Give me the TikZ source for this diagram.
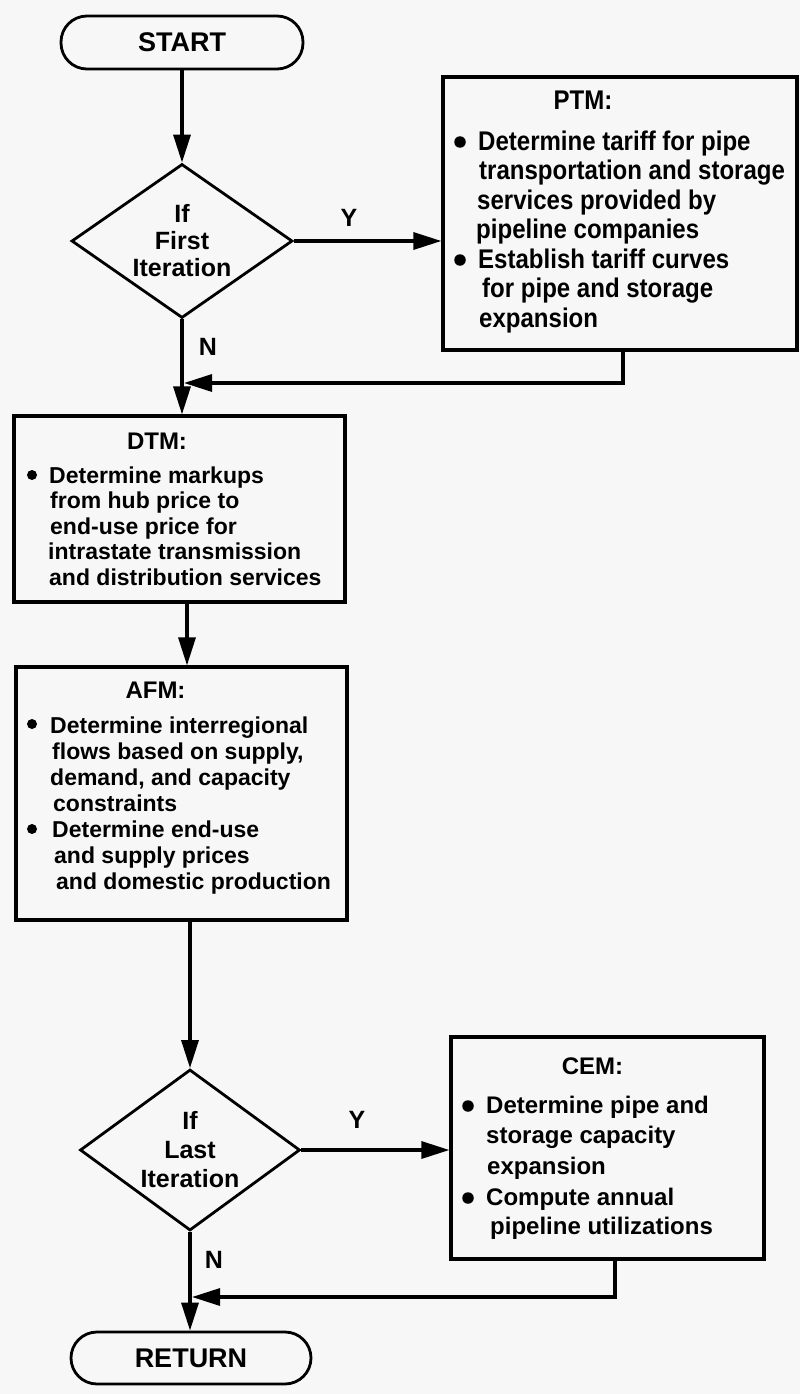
\documentclass[tikz,border=0pt]{standalone}
\usepackage{fontspec}
\setmainfont{Liberation Sans}
\newfontfamily\narrowfont[FakeStretch=0.89]{Liberation Sans}
\usetikzlibrary{shapes.geometric,arrows.meta,calc}
\begin{document}
\begin{tikzpicture}[x=1pt,y=-1pt,
  box/.style={draw, line width=3.2pt, rectangle, inner sep=0pt},
  term/.style={draw, line width=2.8pt, rounded corners=26pt, inner sep=0pt, font=\bfseries\fontsize{27}{30}\selectfont},
  dia/.style={draw, diamond, line width=2.8pt, inner sep=0pt, align=center},
  arr/.style={line width=3.2pt, -{Triangle[length=28pt,width=17pt]}},
  tdtm/.style={anchor=base west, inner sep=0pt, font=\bfseries\fontsize{23}{26}\selectfont},
  tptm/.style={anchor=base west, inner sep=0pt, font=\narrowfont\bfseries\fontsize{27}{29}\selectfont},
  tcem/.style={anchor=base west, inner sep=0pt, font=\bfseries\fontsize{24}{30}\selectfont},
  lab/.style={anchor=base, inner sep=0pt, font=\bfseries\fontsize{25}{27}\selectfont},
  bul/.style={circle, fill, inner sep=0pt, minimum size=11.5pt}]
\path[use as bounding box, fill=black!3] (0,0) rectangle (800,1394);

% main shapes
\node[term, minimum width=242pt, minimum height=53pt] (start) at (182,42.5) {START};
\node[dia, minimum width=221pt, minimum height=154pt, aspect=1.435,
      font=\bfseries\fontsize{25}{27}\selectfont] (d1) at (182,241) {If\\First\\Iteration};
\node[box, minimum width=354pt, minimum height=273pt] (ptm) at (620,213.5) {};
\node[box, minimum width=331pt, minimum height=186pt] (dtm) at (179.5,509) {};
\node[box, minimum width=331pt, minimum height=253pt] (afm) at (181.5,793.5) {};
\node[dia, minimum width=220pt, minimum height=161pt, aspect=1.37,
      font=\bfseries\fontsize{25}{29}\selectfont] (d2) at (190,1150) {If\\Last\\Iteration};
\node[box, minimum width=313pt, minimum height=222pt] (cem) at (607.5,1148) {};
\node[term, minimum width=240pt, minimum height=52pt] (ret) at (191,1358) {RETURN};

% connectors
\coordinate (j1) at (184,383);
\coordinate (t2) at (187,0);
\coordinate (j2) at (192,1297);
\draw[arr] (start) -- (d1);
\draw[arr] (d1.south) -- (d1.south |- dtm.north);
\draw[arr] (d1.east) -- (d1.east -| ptm.west);
\draw[arr] ([xshift=3pt]ptm.south) |- (j1);
\draw[arr] (t2 |- dtm.south) -- (t2 |- afm.north);
\draw[arr] (afm.south -| d2.north) -- (d2.north);
\draw[arr] (d2.east) -- (d2.east -| cem.west);
\draw[arr] (d2.south) -- (d2.south |- ret.north);
\draw[arr] ([xshift=7.5pt]cem.south) |- (j2);

% labels
\node[lab] (y1) at (349,226) {Y};
\node[lab] (n1) at (208,355) {N};
\node[lab] (y2) at (357,1128) {Y};
\node[lab] (n2) at (214,1268) {N};

% PTM text
\node[tptm, anchor=base] (ptmt) at (583,110) {PTM:};
\node[bul] (pb1) at (460,142) {};
\node[bul] (pb2) at (460,260) {};
\node[tptm] (p1) at (478,150) {Determine tariff for pipe};
\node[tptm] (p2) at (479,179.5) {transportation and storage};
\node[tptm] (p3) at (477,209) {services provided by};
\node[tptm] (p4) at (476,238.5) {pipeline companies};
\node[tptm] (p5) at (478,268) {Establish tariff curves};
\node[tptm] (p6) at (482,297.5) {for pipe and storage};
\node[tptm] (p7) at (479,327) {expansion};

% DTM text
\node[tdtm, anchor=base, font=\bfseries\fontsize{24}{26}\selectfont] (dtmt) at (157,449) {DTM:};
\node[bul, minimum size=10pt] (db1) at (32,475) {};
\node[tdtm] (dl1) at (49,483) {Determine markups};
\node[tdtm] (dl2) at (50,508.5) {from hub price to};
\node[tdtm] (dl3) at (50,534) {end-use price for};
\node[tdtm] (dl4) at (48,559.5) {intrastate transmission};
\node[tdtm] (dl5) at (49,585) {and distribution services};

% AFM text
\node[tdtm, anchor=base, font=\bfseries\fontsize{24}{26}\selectfont] (afmt) at (155.5,698) {AFM:};
\node[bul, minimum size=10pt] (ab1) at (32,724) {};
\node[bul, minimum size=10pt] (ab2) at (32,829) {};
\node[tdtm] (al1) at (50,733) {Determine interregional};
\node[tdtm] (al2) at (52,759) {flows based on supply,};
\node[tdtm] (al3) at (50,785) {demand, and capacity};
\node[tdtm] (al4) at (53,811) {constraints};
\node[tdtm] (al5) at (52,837) {Determine end-use};
\node[tdtm] (al6) at (54,863) {and supply prices};
\node[tdtm] (al7) at (56,889) {and domestic production};

% CEM text
\node[tcem, anchor=base] (cemt) at (592.5,1074) {CEM:};
\node[bul] (cb1) at (468,1106) {};
\node[bul] (cb2) at (468,1198) {};
\node[tcem] (cl1) at (486,1113) {Determine pipe and};
\node[tcem] (cl2) at (486,1143) {storage capacity};
\node[tcem] (cl3) at (487,1174) {expansion};
\node[tcem] (cl4) at (486,1205) {Compute annual};
\node[tcem] (cl5) at (490,1234) {pipeline utilizations};
\end{tikzpicture}
\end{document}
